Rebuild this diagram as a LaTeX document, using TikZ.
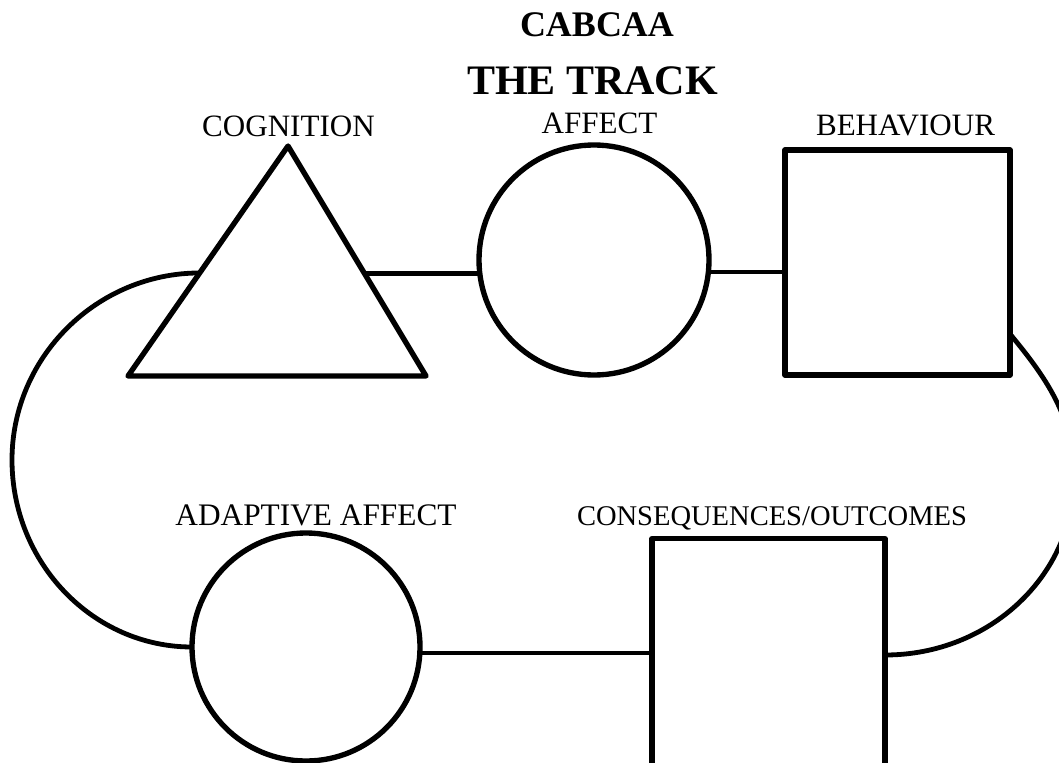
\documentclass[tikz,border=0pt]{standalone}
\usepackage{fontspec}
\setmainfont{Liberation Serif}
\usetikzlibrary{calc}
\begin{document}
\begin{tikzpicture}[x=0.75pt,y=-0.75pt,
  shapeline/.style={line width=4pt, line join=round},
  conn/.style={line width=3.6pt},
  lbl/.style={anchor=base, inner sep=0pt, font=\fontsize{23.3pt}{26pt}\selectfont},
  roundbox/.style={circle, draw, shapeline, inner sep=0pt, outer sep=0pt},
  squarebox/.style={rectangle, draw, shapeline, inner sep=0pt, outer sep=0pt},
]
\useasboundingbox[fill=white] (0,0) rectangle (1059,763);

% titles
\node[lbl, font=\bfseries\fontsize{27pt}{30pt}\selectfont] (title1) at (597,37) {CABCAA};
\node[lbl, font=\bfseries\fontsize{31.5pt}{34pt}\selectfont] (title2) at (592.5,95) {THE TRACK};

% labels
\node[lbl] (lcog) at (288.5,137) {COGNITION};
\node[lbl] (laff) at (599.5,134) {AFFECT};
\node[lbl] (lbeh) at (905.5,136) {BEHAVIOUR};
\node[lbl, font=\fontsize{23.5pt}{26pt}\selectfont] (lada) at (316,525) {ADAPTIVE AFFECT};
\node[lbl, font=\fontsize{21.4pt}{24pt}\selectfont] (lcon) at (772,525) {CONSEQUENCES/OUTCOMES};

% triangle (cognition)
\coordinate (tA) at (288,146);
\coordinate (tL) at (128,376);
\coordinate (tR) at (426,376);
\draw[shapeline] (tA) -- (tR) -- (tL) -- cycle;
\coordinate (tr) at ($(tA)!0.556!(tR)$);
\coordinate (tl) at ($(tA)!0.552!(tL)$);

% shapes
\node[roundbox, minimum size=172.5pt] (aff) at (594,260) {};
\node[squarebox, minimum size=168.75pt] (beh) at (897.5,262.5) {};
\node[roundbox, minimum size=171pt] (ada) at (306,647) {};
\node[squarebox, minimum size=174.75pt] (con) at (768.5,655) {};

% connectors
\draw[conn] (tr) -- (tr -| aff.187);
\draw[conn] (aff.-6.5) -- (aff.-6.5 -| beh.west);
\draw[conn] (ada.-3) -- (ada.-3 -| con.west);

\coordinate (br) at ($(beh.south east)+(0,-41)$);
\draw[conn] (tl) .. controls (97,273) and (12,357) .. (12,460)
  .. controls (12,563) and (93,647) .. (ada.west);
\draw[conn] (br) .. controls (1050,382) and (1074,420) .. (1074,478)
  .. controls (1074,575) and (990,655) .. (con.east);
\end{tikzpicture}
\end{document}
